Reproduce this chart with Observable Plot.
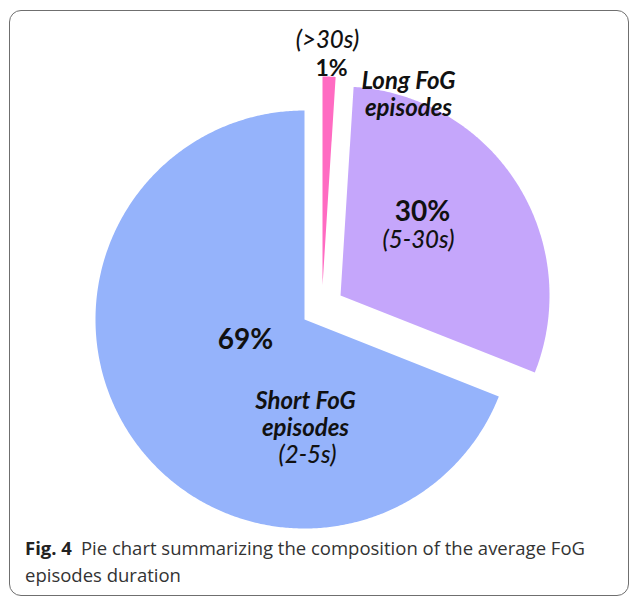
<!DOCTYPE html>
<html>
<head>
<meta charset="utf-8">
<script src="https://cdn.jsdelivr.net/npm/d3@7"></script>
<script src="https://cdn.jsdelivr.net/npm/@observablehq/plot@0.6"></script>
<style>
  html, body { margin: 0; padding: 0; background: #fff; overflow: hidden; }
  #chart { position: absolute; left: 0; top: 0; }
  #frame { position: absolute; left: 9px; top: 10px; width: 620px; height: 586px;
           box-sizing: border-box; border: 1.5px solid #6f6f6f; border-radius: 12px; pointer-events: none; }
  #caption { position: absolute; left: 25px; top: 534px; width: 604px;
             font-family: "Open Sans", sans-serif; font-size: 18.5px; line-height: 27px; color: #333; }
  #caption div { white-space: nowrap; }
  #caption b { color: #222; margin-right: 9px; }
</style>
</head>
<body>
<div id="chart"></div>
<div id="frame"></div>
<div id="caption">
  <div><b>Fig. 4</b><span>Pie chart summarizing the composition of the average FoG</span></div>
  <div><span>episodes duration</span></div>
</div>
<script>
// ---- data ----
const categories = ["Very long FoG episodes", "Long FoG episodes", "Short FoG episodes"];
const shares = [1, 30, 69];
const pctLabels = ["1%", "30%", "69%"];
const nameLabels = ["", "Long FoG\nepisodes", "Short FoG\nepisodes"];
const durationLabels = ["(>30s)", "(5-30s)", "(2-5s)"];
const sliceColors = ["#ff6bc2", "#c5a6fb", "#95b3fb"];

// ---- layout (pixel space of the plot) ----
const W = 629, H = 530;
const layout = {
  center: [304, 319],
  radius: 209,
  explode: [[18, -34], [36, -24], [0, 0]],
  pctPos: [[331, 68], [422, 212], [245, 340]],
  pctSize: [23, 28, 28],
  namePos: [null, [408, 93], [305, 413]],
  durPos: [[327, 40], [418, 240], [307, 455]]
};

const arcs = d3.pie().sort(null).startAngle(0).endAngle(2 * Math.PI)(shares);

// polygon outline of each (exploded) slice
const slicePts = [];
arcs.forEach((a, i) => {
  const [ex, ey] = layout.explode[i];
  const ax = layout.center[0] + ex, ay = layout.center[1] + ey;
  const r = layout.radius;
  const n = Math.max(2, Math.ceil((a.endAngle - a.startAngle) / (Math.PI / 360)));
  slicePts.push({cat: categories[i], x: ax, y: ay});
  for (let k = 0; k <= n; k++) {
    const t = a.startAngle + (a.endAngle - a.startAngle) * k / n;
    slicePts.push({cat: categories[i], x: ax + r * Math.sin(t), y: ay - r * Math.cos(t)});
  }
  slicePts.push({cat: categories[i], x: ax, y: ay});
});

const pctRows = pctLabels.map((t, i) => ({t, x: layout.pctPos[i][0], y: layout.pctPos[i][1], s: layout.pctSize[i]}));
const nameRows = nameLabels.map((t, i) => ({t, p: layout.namePos[i]})).filter(d => d.p)
  .map(d => ({t: d.t, x: d.p[0], y: d.p[1]}));
const durRows = durationLabels.map((t, i) => ({t, x: layout.durPos[i][0], y: layout.durPos[i][1]}));

const plot = Plot.plot({
  width: W,
  height: H,
  margin: 0,
  style: {background: "transparent", overflow: "visible"},
  x: {domain: [0, W], range: [0, W], axis: null},
  y: {domain: [0, H], range: [0, H], axis: null},
  color: {domain: categories, range: sliceColors},
  marks: [
    Plot.line(slicePts, {x: "x", y: "y", z: "cat", fill: "cat", stroke: "none", curve: "linear"}),
    ...pctRows.map(d => Plot.text([d], {x: "x", y: "y", text: "t", fontSize: d.s, fontWeight: "bold",
      fontFamily: "Lato", fill: "#111", textAnchor: "middle", lineAnchor: "middle"})),
    Plot.text(nameRows, {x: "x", y: "y", text: "t", fontSize: 24, fontWeight: "bold", fontStyle: "italic",
      fontFamily: "Lato", fill: "#111", textAnchor: "middle", lineAnchor: "middle", lineHeight: 1.12}),
    Plot.text(durRows, {x: "x", y: "y", text: "t", fontSize: 24, fontStyle: "italic", fontWeight: 500,
      fontFamily: "Lato", fill: "#111", textAnchor: "middle", lineAnchor: "middle"})
  ]
});
document.getElementById("chart").appendChild(plot);
</script>
</body>
</html>
